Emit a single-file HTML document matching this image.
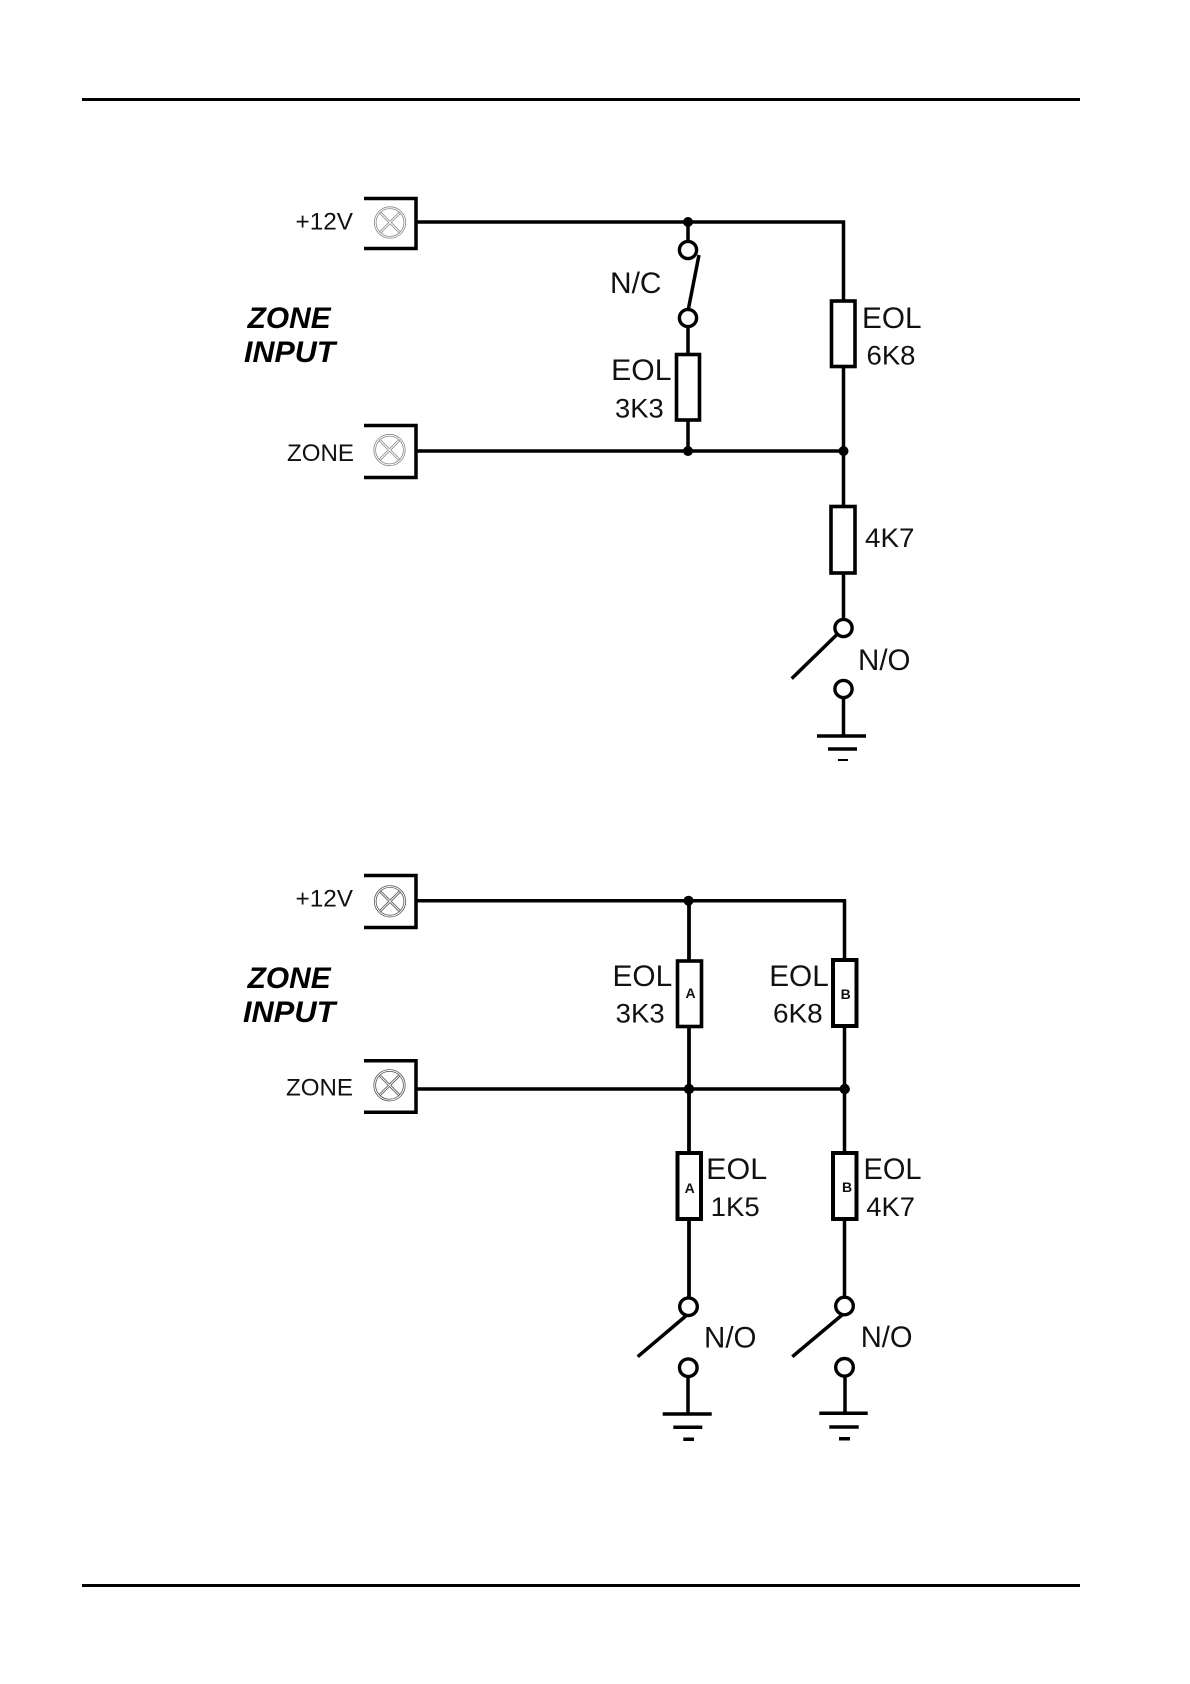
<!DOCTYPE html>
<html>
<head>
<meta charset="utf-8">
<style>
html,body{margin:0;padding:0;background:#fff;width:1190px;height:1684px;overflow:hidden}
svg{display:block}
text{font-family:"Liberation Sans",Arial,sans-serif;fill:#111}
.t{font-size:24px}
.b{font-size:29.5px;font-weight:bold;font-style:italic;fill:#000}
.l{font-size:30px}
.v{font-size:27px}
.s{font-size:14px;font-weight:bold;text-anchor:middle}
.w{fill:none;stroke:#000;stroke-width:3.5}
.r{fill:#fff;stroke:#000;stroke-width:3.6}
.c{fill:#fff;stroke:#000;stroke-width:3.4}
.xo{fill:none;stroke:#888;stroke-width:2.6}
.xd{fill:none;stroke:#555;stroke-width:2.6}
.xi{fill:none;stroke:#fff;stroke-width:1}
</style>
</head>
<body>
<svg width="1190" height="1684" viewBox="0 0 1190 1684" xmlns="http://www.w3.org/2000/svg">
<rect width="1190" height="1684" fill="#fff"/>
<rect x="82" y="98" width="998" height="3" fill="#000"/>
<rect x="82" y="1584" width="998" height="3" fill="#000"/>

<defs>
<g id="term">
  <path class="xo" d="M-10.5,-10.5L10.5,10.5M-10.5,10.5L10.5,-10.5"/>
  <path class="xi" d="M-10.5,-10.5L10.5,10.5M-10.5,10.5L10.5,-10.5"/>
  <circle class="xo" r="14.8"/>
  <circle class="xi" r="14.8"/>
</g>
<g id="term2">
  <path class="xd" d="M-10.5,-10.5L10.5,10.5M-10.5,10.5L10.5,-10.5"/>
  <path class="xi" d="M-10.5,-10.5L10.5,10.5M-10.5,10.5L10.5,-10.5"/>
  <circle class="xd" r="14.8"/>
  <circle class="xi" r="14.8"/>
</g>
</defs>

<!-- Diagram 1 -->
<path class="w" d="M364,198.5H416V248.5H364"/>
<use href="#term" x="390" y="222.5"/>
<path class="w" d="M364,425.5H416V477.5H364"/>
<use href="#term" x="389.5" y="450"/>
<path class="w" d="M416,222H843.5V630"/>
<path class="w" d="M416,451H843.5"/>
<path class="w" d="M688,222V250M688,318V451"/>
<circle class="c" cx="688" cy="250" r="8.6"/>
<circle class="c" cx="688" cy="318" r="8.6"/>
<path class="w" d="M699,255L688,311"/>
<rect class="r" x="676.5" y="354.5" width="23" height="65.5"/>
<rect class="r" x="831.5" y="301" width="23.5" height="65.5"/>
<rect class="r" x="831" y="506.5" width="24" height="66.5"/>
<circle cx="688" cy="222" r="5" fill="#000"/>
<circle cx="688" cy="451" r="5" fill="#000"/>
<circle cx="843.5" cy="451" r="5" fill="#000"/>
<circle class="c" cx="843.5" cy="628" r="8.6"/>
<path class="w" d="M837.5,634L791.7,678.6"/>
<circle class="c" cx="843.5" cy="689" r="8.6"/>
<path class="w" d="M843.5,697.5V736"/>
<path class="w" d="M817,736H866M828,749H857"/>
<path class="w" d="M838,760H848" style="stroke-width:2"/>

<text class="t" x="295.5" y="229.3" textLength="57.5" lengthAdjust="spacingAndGlyphs">+12V</text>
<text class="t" x="287" y="461" textLength="67" lengthAdjust="spacingAndGlyphs">ZONE</text>
<text class="b" x="247.7" y="328" textLength="83" lengthAdjust="spacingAndGlyphs">ZONE</text>
<text class="b" x="244" y="362" textLength="91.4" lengthAdjust="spacingAndGlyphs">INPUT</text>
<text class="l" x="610" y="293" textLength="51.5" lengthAdjust="spacingAndGlyphs">N/C</text>
<text class="l" x="611.2" y="380" textLength="60.3" lengthAdjust="spacingAndGlyphs">EOL</text>
<text class="v" x="615" y="417.3" textLength="48.7" lengthAdjust="spacingAndGlyphs">3K3</text>
<text class="l" x="862" y="328" textLength="59.5" lengthAdjust="spacingAndGlyphs">EOL</text>
<text class="v" x="866.5" y="364.5" textLength="49" lengthAdjust="spacingAndGlyphs">6K8</text>
<text class="v" x="865" y="547" textLength="49.5" lengthAdjust="spacingAndGlyphs">4K7</text>
<text class="l" x="858" y="670" textLength="52.5" lengthAdjust="spacingAndGlyphs">N/O</text>

<!-- Diagram 2 -->
<path class="w" d="M364,875.5H416V927.5H364"/>
<use href="#term2" x="390" y="901.3"/>
<path class="w" d="M364,1060.7H416V1112.3H364"/>
<use href="#term2" x="389.5" y="1085.3"/>
<path class="w" d="M416,900.7H844.5V1306"/>
<path class="w" d="M416,1089H845"/>
<path class="w" d="M689,900.7V1306" style="stroke-width:3.8"/>
<rect class="r" x="677.5" y="961" width="24" height="65.5"/>
<rect class="r" x="833" y="960" width="23.5" height="66" style="stroke-width:4"/>
<rect class="r" x="677.5" y="1153" width="23.5" height="66" style="stroke-width:4"/>
<rect class="r" x="833" y="1153" width="23.5" height="66" style="stroke-width:4"/>
<circle cx="688.5" cy="900.7" r="5" fill="#000"/>
<circle cx="689" cy="1089" r="5.2" fill="#000"/>
<circle cx="844.7" cy="1089" r="5.2" fill="#000"/>
<text class="s" x="690.5" y="998">A</text>
<text class="s" x="845.7" y="999">B</text>
<text class="s" x="689.7" y="1193">A</text>
<text class="s" x="847" y="1192">B</text>

<circle class="c" cx="688.5" cy="1306.7" r="8.8"/>
<path class="w" d="M687,1315L637.7,1356.7"/>
<circle class="c" cx="688.3" cy="1367.7" r="8.8"/>
<path class="w" d="M688,1376.5V1414M662.7,1414H711.7M673.3,1427.3H702.3M683.3,1439.3H694"/>
<circle class="c" cx="844.5" cy="1306" r="8.8"/>
<path class="w" d="M842,1315L792.3,1356.7"/>
<circle class="c" cx="844.5" cy="1367.3" r="8.8"/>
<path class="w" d="M845,1376V1413.3M819.3,1413.3H867.7M829.3,1427H858.7M839,1438.7H850"/>

<text class="t" x="295.5" y="906.7" textLength="57.5" lengthAdjust="spacingAndGlyphs">+12V</text>
<text class="t" x="286" y="1095.7" textLength="67" lengthAdjust="spacingAndGlyphs">ZONE</text>
<text class="b" x="247.7" y="988" textLength="83" lengthAdjust="spacingAndGlyphs">ZONE</text>
<text class="b" x="243" y="1022" textLength="92.4" lengthAdjust="spacingAndGlyphs">INPUT</text>
<text class="l" x="612.5" y="986" textLength="59.7" lengthAdjust="spacingAndGlyphs">EOL</text>
<text class="v" x="615.7" y="1022.7" textLength="49" lengthAdjust="spacingAndGlyphs">3K3</text>
<text class="l" x="769.2" y="986" textLength="59.6" lengthAdjust="spacingAndGlyphs">EOL</text>
<text class="v" x="773" y="1022.7" textLength="49.7" lengthAdjust="spacingAndGlyphs">6K8</text>
<text class="l" x="706.2" y="1179" textLength="61" lengthAdjust="spacingAndGlyphs">EOL</text>
<text class="v" x="710.7" y="1216" textLength="49" lengthAdjust="spacingAndGlyphs">1K5</text>
<text class="l" x="863.5" y="1179" textLength="58" lengthAdjust="spacingAndGlyphs">EOL</text>
<text class="v" x="866.3" y="1216" textLength="48.7" lengthAdjust="spacingAndGlyphs">4K7</text>
<text class="l" x="704" y="1347.7" textLength="52.5" lengthAdjust="spacingAndGlyphs">N/O</text>
<text class="l" x="860.7" y="1347" textLength="51.8" lengthAdjust="spacingAndGlyphs">N/O</text>
</svg>
</body>
</html>
